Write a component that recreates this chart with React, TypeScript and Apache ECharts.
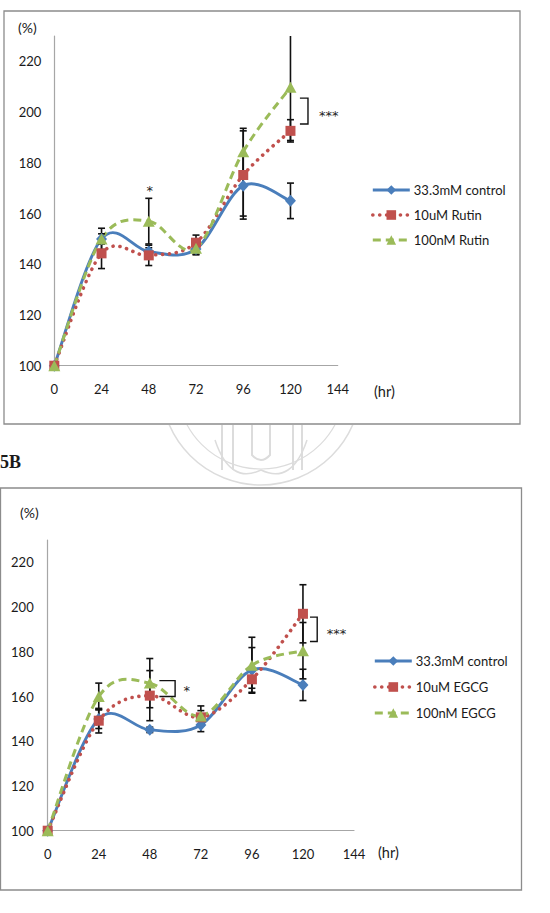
import React, { useEffect, useRef } from "react";
import * as echarts from "echarts";

// ---------- data ----------
const hours = [0, 24, 48, 72, 96, 120];
const xTicks = [0, 24, 48, 72, 96, 120, 144];
const yTicks = [100, 120, 140, 160, 180, 200, 220];

const controlName = "33.3mM control";
const rutin10Name = "10uM Rutin";
const rutin100Name = "100nM Rutin";
const egcg10Name = "10uM EGCG";
const egcg100Name = "100nM EGCG";

// Panel A (Rutin)
const rutinControl = [100, 150, 145, 146, 171, 165];
const rutinControlErr = [0, 2, 1.5, 2, 12, 7];
const rutin10 = [100, 144.3, 143.5, 148.5, 175.2, 192.6];
const rutin10Err = [0, 6, 4, 3, 17.4, 4.4];
const rutin100 = [100, 150, 157, 146.3, 184.4, 209.8];
const rutin100Err = [0, 4.2, 9, 2.6, 9.2, 21];

// Panel B (EGCG)
const egcgControl = [100, 150, 145.1, 147.3, 171.9, 165.2];
const egcgControlErr = [0, 4.3, 1.2, 3, 10, 7];
const egcg10 = [100, 149.2, 160.4, 150.7, 167.7, 197];
const egcg10Err = [0, 5.5, 11.2, 3, 4, 13];
const egcg100 = [100, 160, 166, 151.3, 174, 180.5];
const egcg100Err = [0, 6, 11, 4.5, 12.5, 12.6];

// significance annotations: [hourStart, hourEnd, valueTop, valueBottom]
const rutinBrackets = [[124.8, 128.9, 205.5, 195.3]];
const rutinStars = [[48.5, 169.2, "*"], [139.5, 198.7, "***"]];
const egcgBrackets = [
  [52.5, 59.9, 167.1, 160],
  [123.3, 126.7, 195.5, 184.6],
];
const egcgStars = [[65.4, 162.6, "*"], [135.8, 188.2, "***"]];

const Y_MAX = 230;
const X_MAX = 144;

const BLUE = "#4a7ebb";
const RED = "#c0504d";
const GREEN = "#9bbb59";
const TEXT = "#1a1a1a";
const FONT = "Lato";

const COLORS = [BLUE, RED, GREEN];

function strokeStyle(kind: number): any {
  if (kind === 0) return { stroke: BLUE, lineWidth: 2.9, fill: "none" };
  if (kind === 1)
    return { stroke: RED, lineWidth: 3.6, lineDash: [0.1, 6.8], lineCap: "round", fill: "none" };
  return { stroke: GREEN, lineWidth: 3, lineDash: [8, 5], fill: "none" };
}

function legendLine(kind: number): any {
  if (kind === 0) return { color: BLUE, width: 2.9, type: "solid", opacity: 1 };
  if (kind === 1) return { color: RED, width: 3.6, type: [0.1, 6.8], cap: "round", opacity: 1 };
  return { color: GREEN, width: 3, type: [8, 5], opacity: 1 };
}

// smoothed curve (Excel-like cardinal spline) drawn through the axes' coordinates
function curveSeries(idx: number, vals: number[], kind: number) {
  return {
    type: "custom",
    xAxisIndex: idx,
    yAxisIndex: idx,
    data: hours.map((h, i) => [h, vals[i]]),
    encode: { x: 0, y: 1 },
    z: 3 + kind * 0.1,
    silent: true,
    renderItem: (params: any, api: any) => {
      const n = hours.length;
      const i = params.dataIndex;
      if (i >= n - 1) return { type: "group", children: [] };
      const pts = hours.map((h, k) => api.coord([h, vals[k]]));
      const p0 = pts[Math.max(i - 1, 0)];
      const p1 = pts[i];
      const p2 = pts[i + 1];
      const p3 = pts[Math.min(i + 2, n - 1)];
      return {
        type: "bezierCurve",
        shape: {
          x1: p1[0],
          y1: p1[1],
          x2: p2[0],
          y2: p2[1],
          cpx1: p1[0] + (p2[0] - p0[0]) / 6,
          cpy1: p1[1] + (p2[1] - p0[1]) / 6,
          cpx2: p2[0] - (p3[0] - p1[0]) / 6,
          cpy2: p2[1] - (p3[1] - p1[1]) / 6,
        },
        style: strokeStyle(kind),
      };
    },
  };
}

function markerSeries(name: string, vals: number[], idx: number, kind: number) {
  const color = COLORS[kind];
  return {
    name,
    type: "line",
    xAxisIndex: idx,
    yAxisIndex: idx,
    data: hours.map((h, i) => [h, vals[i]]),
    symbol: kind === 0 ? "diamond" : kind === 1 ? "rect" : "triangle",
    symbolSize: kind === 0 ? [11, 12] : kind === 1 ? 10 : [12, 11],
    lineStyle: { ...legendLine(kind), opacity: 0 },
    itemStyle: { color },
    z: 5 + kind * 0.1,
  };
}

function errorSeries(idx: number, groups: number[][][]) {
  const data: number[][] = [];
  groups.forEach(([vals, errs]) => {
    hours.forEach((h, i) => {
      if (errs[i] > 0) data.push([h, vals[i], errs[i]]);
    });
  });
  return {
    type: "custom",
    xAxisIndex: idx,
    yAxisIndex: idx,
    data,
    encode: { x: 0, y: 1 },
    z: 4,
    silent: true,
    renderItem: (params: any, api: any) => {
      const x = api.value(0);
      const v = api.value(1);
      const e = api.value(2);
      const hi = Math.min(v + e, Y_MAX);
      const lo = v - e;
      const pt = api.coord([x, hi]);
      const pb = api.coord([x, lo]);
      const w = 3.5;
      const st = { stroke: "#111", lineWidth: 1.6 };
      const children: any[] = [
        { type: "line", shape: { x1: pt[0], y1: pt[1], x2: pb[0], y2: pb[1] }, style: st },
        { type: "line", shape: { x1: pb[0] - w, y1: pb[1], x2: pb[0] + w, y2: pb[1] }, style: st },
      ];
      if (v + e <= Y_MAX) {
        children.push({ type: "line", shape: { x1: pt[0] - w, y1: pt[1], x2: pt[0] + w, y2: pt[1] }, style: st });
      }
      return { type: "group", children };
    },
  };
}

function bracketSeries(idx: number, brackets: number[][]) {
  return {
    type: "custom",
    xAxisIndex: idx,
    yAxisIndex: idx,
    data: brackets,
    encode: { x: [0, 1], y: [2, 3] },
    z: 6,
    silent: true,
    renderItem: (params: any, api: any) => {
      const a = api.coord([api.value(0), api.value(2)]);
      const b = api.coord([api.value(1), api.value(3)]);
      return {
        type: "polyline",
        shape: { points: [[a[0], a[1]], [b[0], a[1]], [b[0], b[1]], [a[0], b[1]]] },
        style: { stroke: "#111", lineWidth: 1.4, fill: "none" },
      };
    },
  };
}

function starSeries(idx: number, stars: any[]) {
  return {
    type: "custom",
    xAxisIndex: idx,
    yAxisIndex: idx,
    data: stars.map((s) => [s[0], s[1]]),
    encode: { x: 0, y: 1 },
    z: 6,
    silent: true,
    renderItem: (params: any, api: any) => {
      const p = api.coord([api.value(0), api.value(1)]);
      return {
        type: "text",
        x: p[0],
        y: p[1],
        style: {
          text: stars[params.dataIndex][2],
          fill: "#222222",
          fontSize: 13,
          fontFamily: "DejaVu Sans",
          align: "center",
          verticalAlign: "middle",
          textAlign: "center",
          textVerticalAlign: "middle",
        },
      };
    },
  };
}

function xAxis(idx: number) {
  return {
    type: "value",
    gridIndex: idx,
    min: xTicks[0],
    max: X_MAX,
    interval: 24,
    axisLine: { show: true, onZero: false, lineStyle: { color: "#a6a6a6", width: 1.2 } },
    axisTick: { show: false },
    splitLine: { show: false },
    axisLabel: { color: TEXT, fontSize: 13, fontFamily: FONT, margin: 17 },
  };
}

function yAxis(idx: number, margin: number) {
  return {
    type: "value",
    gridIndex: idx,
    min: yTicks[0],
    max: Y_MAX,
    interval: 20,
    axisLine: { show: true, lineStyle: { color: "#a6a6a6", width: 1.2 } },
    axisTick: { show: false },
    splitLine: { show: false },
    axisLabel: { color: TEXT, fontSize: 13, fontFamily: FONT, margin, showMaxLabel: false },
  };
}

function legend(left: number, top: number, names: string[], gap: number) {
  return {
    left,
    top,
    orient: "vertical",
    itemWidth: 37,
    itemHeight: 12,
    itemGap: gap,
    padding: 0,
    selectedMode: false,
    data: names.map((name, k) => ({ name, lineStyle: legendLine(k) })),
    textStyle: { color: TEXT, fontSize: 13, fontFamily: FONT, padding: [0, 0, 0, -1] },
  };
}

function txt(x: number, y: number, text: string, font: string) {
  return {
    type: "text",
    x,
    y,
    silent: true,
    style: { text, font, fill: TEXT, verticalAlign: "middle", textVerticalAlign: "middle" },
  };
}

export default function App() {
  const ref = useRef<HTMLDivElement>(null);

  useEffect(() => {
    if (!ref.current) return;
    const chart = echarts.init(ref.current, undefined, { renderer: "svg" });
    chart.setOption({
      animation: false,
      backgroundColor: "transparent",
      textStyle: { fontFamily: FONT },
      grid: [
        { left: 54.3, top: 36, width: 283.4, height: 329.7 },
        { left: 47.7, top: 540, width: 306.3, height: 290.7 },
      ],
      xAxis: [xAxis(0), xAxis(1)],
      yAxis: [yAxis(0, 13), yAxis(1, 14)],
      legend: [
        legend(371, 183.5, [controlName, rutin10Name, rutin100Name], 12),
        legend(373, 654.5, [controlName, egcg10Name, egcg100Name], 13),
      ],
      graphic: [
        {
          type: "rect",
          silent: true,
          shape: { x: 4, y: 11, width: 516, height: 413 },
          style: { fill: "none", stroke: "#8c8c8c", lineWidth: 1.3 },
        },
        {
          type: "rect",
          silent: true,
          shape: { x: 0.5, y: 488, width: 521, height: 402 },
          style: { fill: "none", stroke: "#8c8c8c", lineWidth: 1.3 },
        },
        txt(18, 27, "(%)", `14px ${FONT}`),
        txt(374, 391, "(hr)", `14.5px ${FONT}`),
        txt(20, 512, "(%)", `14px ${FONT}`),
        txt(378, 852, "(hr)", `14.5px ${FONT}`),
        txt(0, 462, "5B", `bold 18px "Liberation Serif"`),
      ],
      series: [
        errorSeries(0, [
          [rutinControl, rutinControlErr],
          [rutin10, rutin10Err],
          [rutin100, rutin100Err],
        ]),
        curveSeries(0, rutinControl, 0),
        curveSeries(0, rutin10, 1),
        curveSeries(0, rutin100, 2),
        markerSeries(controlName, rutinControl, 0, 0),
        markerSeries(rutin10Name, rutin10, 0, 1),
        markerSeries(rutin100Name, rutin100, 0, 2),
        bracketSeries(0, rutinBrackets),
        starSeries(0, rutinStars),
        errorSeries(1, [
          [egcgControl, egcgControlErr],
          [egcg10, egcg10Err],
          [egcg100, egcg100Err],
        ]),
        curveSeries(1, egcgControl, 0),
        curveSeries(1, egcg10, 1),
        curveSeries(1, egcg100, 2),
        markerSeries(controlName, egcgControl, 1, 0),
        markerSeries(egcg10Name, egcg10, 1, 1),
        markerSeries(egcg100Name, egcg100, 1, 2),
        bracketSeries(1, egcgBrackets),
        starSeries(1, egcgStars),
      ],
    });
    return () => chart.dispose();
  }, []);

  return (
    <div style={{ position: "absolute", left: 0, top: 0, width: 550, height: 913, background: "#fff" }}>
      <svg width={550} height={913} style={{ position: "absolute", left: 0, top: 0 }}>
        <defs>
          <clipPath id="wm">
            <rect x={154} y={425} width={214} height={62} />
          </clipPath>
        </defs>
        <g clipPath="url(#wm)" fill="none" stroke="#dcdcdc">
          <circle cx={261} cy={385} r={100} strokeWidth={1.5} />
          <circle cx={261} cy={385} r={84} strokeWidth={1.2} />
          <path d="M222 425 L222 470 M233 425 L233 470 M293 425 L293 470 M302 425 L302 470" strokeWidth={2} />
          <path d="M215 440 Q230 485 261 470 Q292 485 307 440" strokeWidth={1.5} />
          <path d="M252 425 L252 455 Q261 465 270 455 L270 425" strokeWidth={2} />
        </g>
      </svg>
      <div ref={ref} style={{ position: "absolute", left: 0, top: 0, width: 550, height: 913 }} />
    </div>
  );
}
